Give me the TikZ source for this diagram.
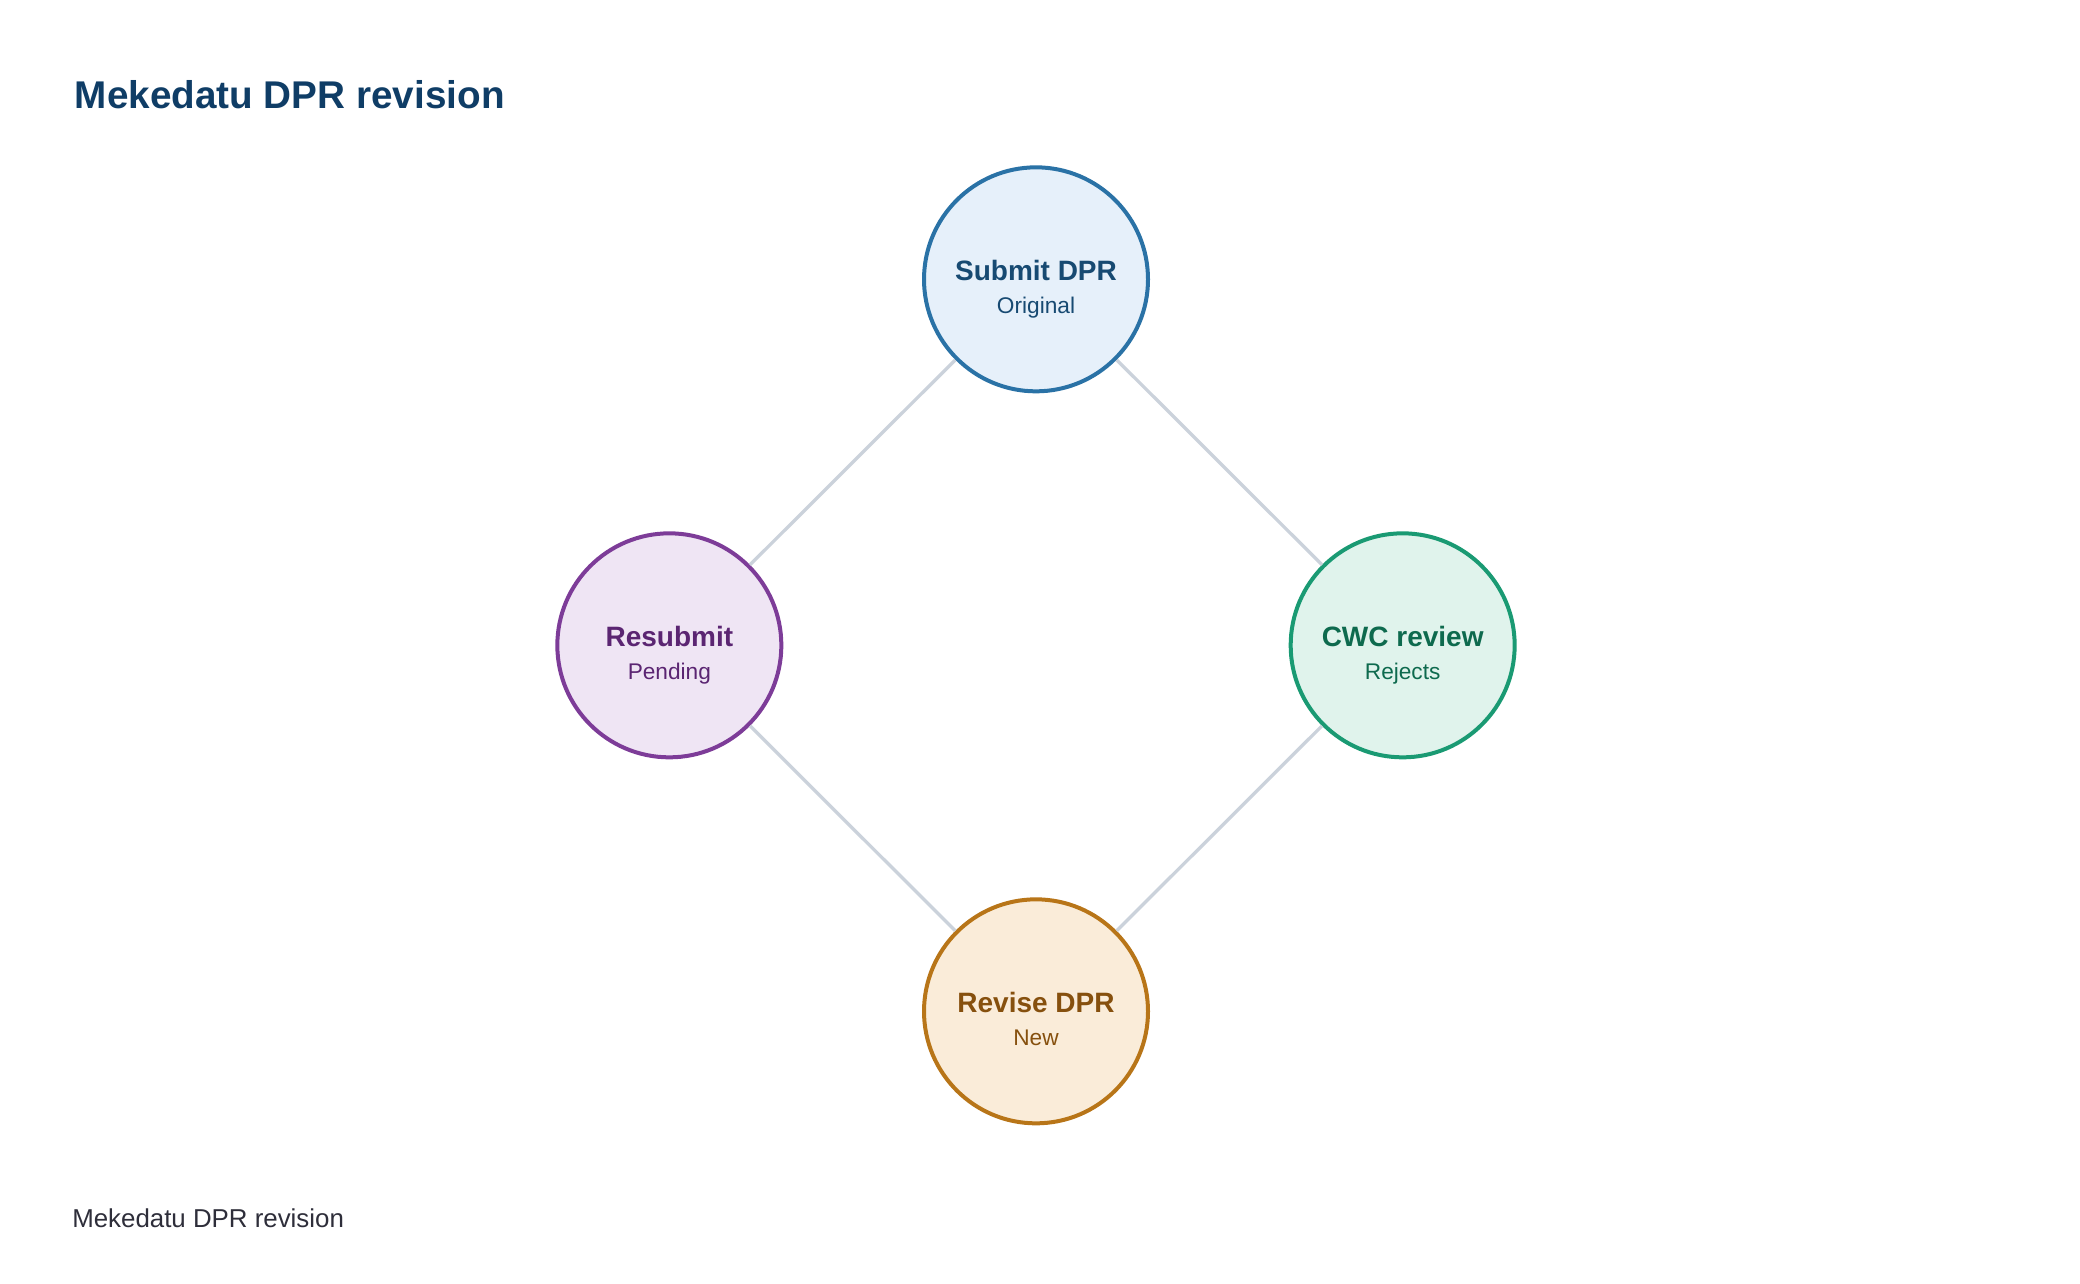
\documentclass[tikz,border=0pt]{standalone}
\usepackage{fontspec}
\setmainfont{Liberation Sans}
\definecolor{titleblue}{HTML}{0F3D66}
\definecolor{footgray}{HTML}{2E2E3A}
\definecolor{linkgray}{HTML}{CBD2DB}
\definecolor{blueLine}{HTML}{2A72A6}
\definecolor{blueFill}{HTML}{E6F0FA}
\definecolor{blueText}{HTML}{174A72}
\definecolor{purpleLine}{HTML}{7D3C98}
\definecolor{purpleFill}{HTML}{EFE5F4}
\definecolor{purpleText}{HTML}{5B2572}
\definecolor{greenLine}{HTML}{1A9A73}
\definecolor{greenFill}{HTML}{E0F3EC}
\definecolor{greenText}{HTML}{0E6A4E}
\definecolor{orangeLine}{HTML}{B87518}
\definecolor{orangeFill}{HTML}{FAECD9}
\definecolor{orangeText}{HTML}{86500E}
\begin{document}
\begin{tikzpicture}[x=1pt, y=-1pt,
    state/.style={circle, line width=3pt, minimum size=168pt, inner sep=0pt},
    link/.style={draw=linkgray, line width=2.5pt},
    bigtext/.style={font=\fontsize{21}{25}\selectfont\bfseries, anchor=base},
    smalltext/.style={font=\fontsize{17}{20}\selectfont, anchor=base}]
\useasboundingbox (0,0) rectangle (1560,963);
\node[anchor=base west, inner sep=0pt, text=titleblue, font=\fontsize{29}{34}\selectfont\bfseries] (title) at (56,81.3) {Mekedatu DPR revision};
\node[anchor=base west, inner sep=0pt, text=footgray, font=\fontsize{19.4}{23}\selectfont] (foot) at (54,920.5) {Mekedatu DPR revision};
\foreach \n/\x/\y/\col/\a/\b in {submit/777/209.5/blue/Submit DPR/Original,
    resubmit/502/484/purple/Resubmit/Pending,
    cwc/1052/484/green/CWC review/Rejects,
    revise/777/758.5/orange/Revise DPR/New}
{
    \node[state, draw=\col Line, fill=\col Fill] (\n) at (\x,\y) {};
    \node[bigtext, text=\col Text] (\n-a) at ([yshift=-0.7pt]\n.center) {\a};
    \node[smalltext, text=\col Text] (\n-b) at ([yshift=-25.7pt]\n.center) {\b};
}
\draw[link] (submit) -- (resubmit);
\draw[link] (submit) -- (cwc);
\draw[link] (cwc) -- (revise);
\draw[link] (revise) -- (resubmit);
\end{tikzpicture}
\end{document}
